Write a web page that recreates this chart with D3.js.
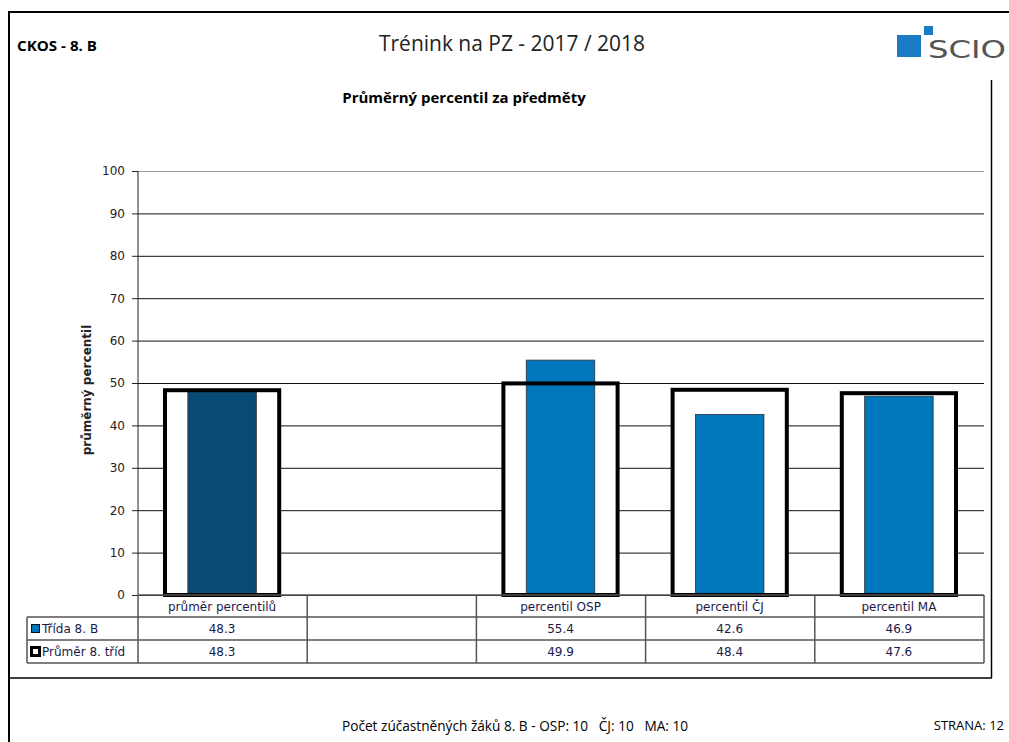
<!DOCTYPE html>
<html>
<head>
<meta charset="utf-8">
<script src="https://cdn.jsdelivr.net/npm/d3@7"></script>
<style>
  html, body { margin: 0; padding: 0; background: #fff; }
  svg { display: block; }
</style>
</head>
<body>
<svg id="chart" width="1009" height="742"></svg>
<script>
// ---- data ----
const categories = ["průměr percentilů", "", "percentil OSP", "percentil ČJ", "percentil MA"];
const tridaValues = [48.3, null, 55.4, 42.6, 46.9];
const prumerValues = [48.3, null, 49.9, 48.4, 47.6];
const seriesNames = ["Třída 8. B", "Průměr 8. tříd"];
const yTicks = [0, 10, 20, 30, 40, 50, 60, 70, 80, 90, 100];

const svg = d3.select("#chart");
const narrow = "'Open Sans', sans-serif";
const tblFont = "Tahoma, 'DejaVu Sans', 'Noto Sans', sans-serif";

// page frame
svg.append("line").attr("x1", 8).attr("x2", 1009).attr("y1", 12).attr("y2", 12).attr("stroke", "#000").attr("stroke-width", 2);
svg.append("line").attr("x1", 9).attr("x2", 9).attr("y1", 12).attr("y2", 742).attr("stroke", "#000").attr("stroke-width", 2);
svg.append("line").attr("x1", 10).attr("x2", 992).attr("y1", 678).attr("y2", 678).attr("stroke", "#000").attr("stroke-width", 1.5);
svg.append("line").attr("x1", 991.5).attr("x2", 991.5).attr("y1", 80).attr("y2", 678).attr("stroke", "#000").attr("stroke-width", 1.5);

// header
svg.append("text").attr("x", 17).attr("y", 51).attr("font-family", narrow).attr("font-weight", "bold").attr("font-size", 14)
  .attr("textLength", 80).attr("lengthAdjust", "spacingAndGlyphs").attr("fill", "#000").text("CKOS - 8. B");
svg.append("text").attr("x", 512).attr("y", 51).attr("text-anchor", "middle").attr("font-family", narrow).attr("font-size", 22)
  .attr("textLength", 266).attr("lengthAdjust", "spacingAndGlyphs").attr("fill", "#222").text("Trénink na PZ - 2017 / 2018");
// logo
svg.append("rect").attr("x", 897).attr("y", 35).attr("width", 24).attr("height", 22).attr("fill", "#1a7cc4");
svg.append("rect").attr("x", 924).attr("y", 26).attr("width", 9).attr("height", 9).attr("fill", "#1a7cc4");
svg.append("text").attr("x", 928).attr("y", 58).attr("font-family", "'DejaVu Sans', sans-serif").attr("font-size", 25).attr("fill", "#555")
  .attr("textLength", 78).attr("lengthAdjust", "spacingAndGlyphs").text("SCIO");

// chart title
svg.append("text").attr("x", 464).attr("y", 103).attr("text-anchor", "middle").attr("font-family", narrow).attr("font-weight", "bold").attr("font-size", 15).attr("fill", "#000").text("Průměrný percentil za předměty");

// plot area
const pLeft = 138, pRight = 984, pTop = 171, pBottom = 595;
const x = d3.scaleBand().domain(d3.range(categories.length)).range([pLeft, pRight]);
const y = d3.scaleLinear().domain([0, 100]).range([pBottom, pTop]);

// gridlines
svg.append("g").attr("transform", `translate(${pLeft},0)`)
  .call(d3.axisLeft(y).tickValues(yTicks).tickSize(-(pRight - pLeft)).tickFormat(""))
  .call(g => g.select(".domain").remove())
  .call(g => g.selectAll(".tick line").attr("stroke", d => d === 100 ? "#999" : "#111").attr("stroke-width", 1));

// y axis
const yAxis = svg.append("g").attr("transform", `translate(${pLeft},0)`)
  .call(d3.axisLeft(y).tickValues(yTicks).tickSize(6).tickPadding(7));
yAxis.select(".domain").attr("stroke", "#222").attr("d", `M0,${pTop}V${pBottom}`);
yAxis.selectAll(".tick line").attr("stroke", "#222");
yAxis.selectAll(".tick text").attr("font-family", tblFont).attr("font-size", 12).attr("fill", "#222");

svg.append("text").attr("transform", `translate(91,${(pTop + pBottom) / 2 + 7}) rotate(-90)`).attr("text-anchor", "middle")
  .attr("font-family", tblFont).attr("font-weight", "bold").attr("font-size", 12).attr("fill", "#222").text("průměrný percentil");

// bars
const boxW = x.bandwidth() * 0.675, barW = x.bandwidth() * 0.405;
const idx = d3.range(categories.length).filter(i => prumerValues[i] != null);
const cx = i => x(i) + x.bandwidth() / 2 - 0.5;

svg.append("g").selectAll("rect").data(idx).join("rect")
  .attr("x", i => cx(i) - boxW / 2).attr("width", boxW)
  .attr("y", i => y(prumerValues[i])).attr("height", i => y(0) - y(prumerValues[i]))
  .attr("fill", "#fff");

svg.append("g").selectAll("rect").data(idx.filter(i => tridaValues[i] != null)).join("rect")
  .attr("x", i => cx(i) - barW / 2).attr("width", barW)
  .attr("y", i => y(tridaValues[i])).attr("height", i => y(0) - y(tridaValues[i]))
  .attr("fill", i => i === 0 ? "#084a74" : "#0077bd")
  .attr("stroke", "#333").attr("stroke-width", 0.8);

svg.append("g").selectAll("rect").data(idx).join("rect")
  .attr("x", i => cx(i) - boxW / 2).attr("width", boxW)
  .attr("y", i => y(prumerValues[i])).attr("height", i => y(0) - y(prumerValues[i]))
  .attr("fill", "none").attr("stroke", "#000").attr("stroke-width", 4);

// data table
const rowH = 23, r0 = pBottom, r1 = pBottom + 22, r2 = r1 + rowH, r3 = r2 + rowH;
const tblLeft = 27;
const tg = svg.append("g").attr("stroke", "#555").attr("stroke-width", 1.5);
tg.append("line").attr("x1", pLeft).attr("x2", pRight).attr("y1", r0).attr("y2", r0);
[r1, r2, r3].forEach(yy => tg.append("line").attr("x1", tblLeft).attr("x2", pRight).attr("y1", yy).attr("y2", yy));
tg.append("line").attr("x1", tblLeft).attr("x2", tblLeft).attr("y1", r1).attr("y2", r3);
d3.range(categories.length + 1).forEach(i => {
  const xx = i < categories.length ? x(i) : pRight;
  tg.append("line").attr("x1", xx).attr("x2", xx).attr("y1", r0).attr("y2", r3);
});

const txt = svg.append("g").attr("font-family", tblFont).attr("font-size", 12).attr("fill", "#1a1a4a").attr("text-anchor", "middle");
categories.forEach((c, i) => {
  txt.append("text").attr("x", cx(i)).attr("y", r0 + 16).text(c);
  if (tridaValues[i] != null) txt.append("text").attr("x", cx(i)).attr("y", r1 + 16).text(tridaValues[i].toFixed(1));
  if (prumerValues[i] != null) txt.append("text").attr("x", cx(i)).attr("y", r2 + 16).text(prumerValues[i].toFixed(1));
});

// legend cells
svg.append("rect").attr("x", 31.5).attr("y", r1 + 7.5).attr("width", 8).attr("height", 8).attr("fill", "#0077bd").attr("stroke", "#111").attr("stroke-width", 1);
svg.append("rect").attr("x", 31.5).attr("y", r2 + 7.5).attr("width", 8).attr("height", 8).attr("fill", "#fff").attr("stroke", "#000").attr("stroke-width", 3);
svg.append("text").attr("x", 42).attr("y", r1 + 16).attr("font-family", tblFont).attr("font-size", 12).attr("fill", "#1a1a4a").text(seriesNames[0]);
svg.append("text").attr("x", 42).attr("y", r2 + 16).attr("font-family", tblFont).attr("font-size", 12).attr("fill", "#1a1a4a").text(seriesNames[1]);

// footer
svg.append("text").attr("x", 342).attr("y", 731).attr("font-family", narrow).attr("font-size", 14).attr("fill", "#000")
  .attr("textLength", 346).attr("lengthAdjust", "spacingAndGlyphs")
  .attr("xml:space", "preserve").text("Počet zúčastněných žáků 8. B - OSP: 10   ČJ: 10   MA: 10");
svg.append("text").attr("x", 1004).attr("y", 730).attr("text-anchor", "end").attr("font-family", narrow).attr("font-size", 13).attr("fill", "#000")
  .text("STRANA: 12");
</script>
</body>
</html>
